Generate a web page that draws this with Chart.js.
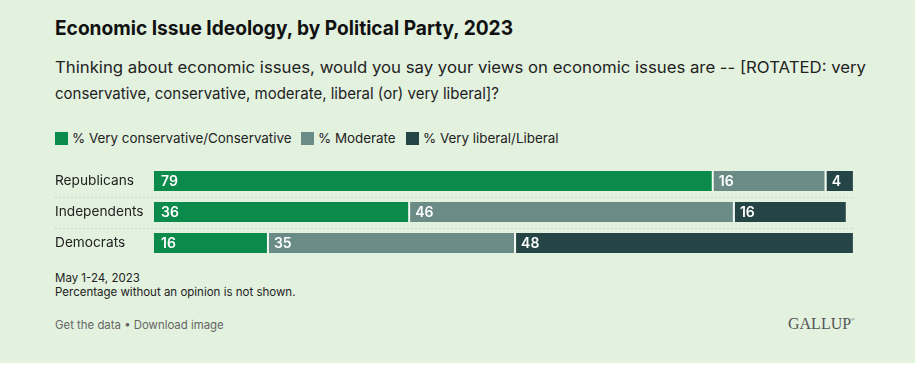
<!DOCTYPE html>
<html>
<head>
<meta charset="utf-8">
<script src="https://cdn.jsdelivr.net/npm/chart.js@4"></script>
<style>
  html,body{margin:0;padding:0;background:#ffffff;}
  #panel{position:absolute;left:0;top:0;width:915px;height:363px;background:#e3f1df;overflow:hidden;}
  .t{position:absolute;white-space:nowrap;font-family:Inter,"Noto Sans",sans-serif;color:#1e1e1e;}
  #title{left:55px;top:16px;font-size:20px;font-weight:700;color:#111;transform-origin:0 0;}
  #sub1{left:55px;top:57px;font-size:16px;color:#222;transform-origin:0 0;}
  #sub2{left:55px;top:83px;font-size:16px;color:#222;transform-origin:0 0;}
  .leg{position:absolute;top:132px;height:13px;font-family:Inter,"Noto Sans",sans-serif;font-size:13.4px;color:#222;white-space:nowrap;}
  .sw{display:inline-block;width:13px;height:13px;vertical-align:top;margin-right:4px;}
  .leg span.lab{position:relative;top:-2px;}
  #n1{left:55px;top:271px;font-size:11.5px;color:#222;}
  #n2{left:55px;top:285px;font-size:11.5px;color:#222;}
  #n3{left:55px;top:318px;font-size:11.4px;color:#666;}
  #gallup{left:788px;top:315px;font-family:"Liberation Serif","DejaVu Serif",serif;font-size:16px;color:#555;}
  #c{position:absolute;left:0;top:0;}
</style>
</head>
<body>
<div id="panel">
  <div class="t" id="title">Economic Issue Ideology, by Political Party, 2023</div>
  <div class="t" id="sub1">Thinking about economic issues, would you say your views on economic issues are -- [ROTATED: very</div>
  <div class="t" id="sub2">conservative, conservative, moderate, liberal (or) very liberal]?</div>
  <div class="leg" id="leg0" style="left:55px"><span class="sw" style="background:#0a8a4b"></span><span class="lab">% Very conservative/Conservative</span></div>
  <div class="leg" id="leg1" style="left:301px"><span class="sw" style="background:#6a8b86"></span><span class="lab">% Moderate</span></div>
  <div class="leg" id="leg2" style="left:406px"><span class="sw" style="background:#254446"></span><span class="lab">% Very liberal/Liberal</span></div>
  <div class="t" id="n1">May 1-24, 2023</div>
  <div class="t" id="n2">Percentage without an opinion is not shown.</div>
  <div class="t" id="n3">Get the data &bull; Download image</div>
  <div class="t" id="gallup">GALLUP<sup style="font-size:5px;vertical-align:top;position:relative;top:2px">&reg;</sup></div>
  <canvas id="c" width="915" height="363"></canvas>
</div>
<script>
const categories = ["Republicans", "Independents", "Democrats"];
const seriesNames = ["% Very conservative/Conservative", "% Moderate", "% Very liberal/Liberal"];
const conservative = [79, 36, 16];
const moderate = [16, 46, 35];
const liberal = [4, 16, 48];
const seriesColors = ["#0a8a4b", "#6a8b86", "#254446"];

function fitWidth(id, w){
  const el = document.getElementById(id);
  const cur = el.getBoundingClientRect().width;
  if (cur > 0) el.style.transform = 'scaleX(' + (w/cur) + ')';
}
fitWidth('title', 458);
fitWidth('sub1', 811);
fitWidth('sub2', 444);

const separators = {
  id: 'separators',
  beforeDatasetsDraw(chart){
    const ctx = chart.ctx, y = chart.scales.y, x = chart.scales.x;
    ctx.save();
    ctx.strokeStyle = '#c5d6c1';
    ctx.lineWidth = 1;
    ctx.setLineDash([1.5, 2.5]);
    for (let i = 0; i < categories.length - 1; i++){
      const yy = Math.round((y.getPixelForValue(i) + y.getPixelForValue(i+1)) / 2) + 0.5;
      ctx.beginPath();
      ctx.moveTo(55, yy);
      ctx.lineTo(x.getPixelForValue(99), yy);
      ctx.stroke();
    }
    ctx.restore();
  }
};

const valueLabels = {
  id: 'valueLabels',
  afterDatasetsDraw(chart){
    const ctx = chart.ctx;
    ctx.save();
    ctx.fillStyle = '#ffffff';
    ctx.font = '600 14px Inter, "Noto Sans", sans-serif';
    ctx.textBaseline = 'middle';
    ctx.textAlign = 'left';
    chart.data.datasets.forEach((ds, di) => {
      const meta = chart.getDatasetMeta(di);
      meta.data.forEach((bar, i) => {
        const left = Math.min(bar.x, bar.base);
        ctx.fillText(String(ds.data[i]), left + 7, bar.y + 1);
      });
    });
    ctx.restore();
  }
};

new Chart(document.getElementById('c'), {
  type: 'bar',
  data: {
    labels: categories,
    datasets: [
      {label: seriesNames[0], data: conservative, backgroundColor: seriesColors[0], borderWidth: 0},
      {label: seriesNames[1], data: moderate, backgroundColor: seriesColors[1], borderColor: '#f4faf2', borderWidth: {left: 2, right: 0, top: 0, bottom: 0}, borderSkipped: false},
      {label: seriesNames[2], data: liberal, backgroundColor: seriesColors[2], borderColor: '#f4faf2', borderWidth: {left: 2, right: 0, top: 0, bottom: 0}, borderSkipped: false}
    ]
  },
  options: {
    indexAxis: 'y',
    responsive: false,
    animation: false,
    devicePixelRatio: 1,
    layout: {padding: {left: 55, right: 55, top: 165.5, bottom: 104.5}},
    datasets: {bar: {categoryPercentage: 1, barPercentage: 0.645}},
    plugins: {legend: {display: false}, tooltip: {enabled: false}, title: {display: false}},
    scales: {
      x: {display: false, stacked: true, min: 0, max: 100},
      y: {
        stacked: true,
        grid: {display: false},
        border: {display: false},
        afterFit(scale){ scale.width = 99; },
        ticks: {crossAlign: 'far', padding: 0, color: '#222', font: {family: 'Inter, "Noto Sans", sans-serif', size: 13.7}}
      }
    }
  },
  plugins: [separators, valueLabels]
});
</script>
</body>
</html>
